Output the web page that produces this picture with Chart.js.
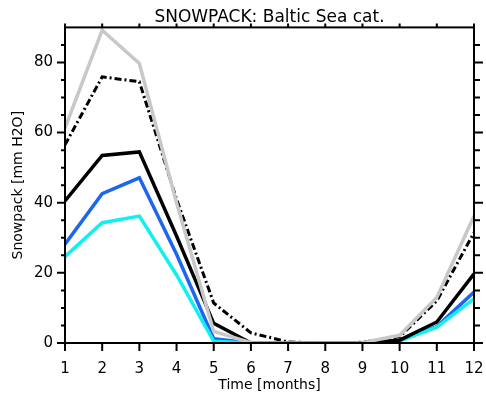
<!DOCTYPE html>
<html>
<head>
<meta charset="utf-8">
<script src="https://cdn.jsdelivr.net/npm/chart.js@4"></script>
<style>
html,body{margin:0;padding:0;background:#fff;}
#wrap{width:486px;height:396px;position:relative;}
</style>
</head>
<body>
<div id="wrap"><canvas id="c" width="486" height="396"></canvas></div>
<script>
const months = [1,2,3,4,5,6,7,8,9,10,11,12];
const graySeries    = [61.3, 89.2, 79.7, 40.0, 3.3, 0.1, 0.0, 0.0, 0.1, 2.2, 13.0, 36.2];
const dashDotSeries = [56.5, 75.9, 74.5, 41.0, 11.4, 2.9, 0.3, 0.0, 0.2, 1.8, 12.0, 31.5];
const blackSeries   = [40.5, 53.5, 54.5, 30.5, 5.6, 0.0, 0.0, 0.0, 0.0, 0.8, 6.0, 19.7];
const blueSeries    = [28.2, 42.6, 47.1, 25.3, 1.2, 0.0, 0.0, 0.0, 0.0, 0.8, 4.7, 14.5];
const cyanSeries    = [24.6, 34.3, 36.2, 19.4, 0.5, 0.0, 0.0, 0.0, 0.0, 0.6, 4.5, 12.6];
const yMajorTicks = [0, 20, 40, 60, 80];

const FONT = 'DejaVu Sans';

function pts(arr){ return arr.map((v,i)=>({x:months[i], y:v})); }

const frameTicks = {
  id: 'frameTicks',
  afterDraw(chart){
    const ctx = chart.ctx, a = chart.chartArea;
    const xs = chart.scales.x, ys = chart.scales.y;
    ctx.save();
    ctx.strokeStyle = '#000';
    ctx.lineWidth = 2;
    ctx.strokeRect(a.left, a.top, a.right - a.left, a.bottom - a.top);
    ctx.beginPath();
    for (let v = 0; v <= 90; v += 5) {
      const y = ys.getPixelForValue(v);
      if (y < a.top + 1) continue;
      const major = yMajorTicks.includes(v);
      const lenL = major ? 8 : 4;
      const lenR = major ? 9 : 6;
      ctx.moveTo(a.left - lenL, y); ctx.lineTo(a.left, y);
      ctx.moveTo(a.right, y); ctx.lineTo(a.right + lenR, y);
    }
    months.forEach(m => {
      const x = xs.getPixelForValue(m);
      ctx.moveTo(x, a.bottom); ctx.lineTo(x, a.bottom + 8);
      ctx.moveTo(x, a.top); ctx.lineTo(x, a.top - 4);
    });
    ctx.stroke();
    ctx.restore();
  }
};

const common = { fill:false, pointRadius:0, tension:0, borderCapStyle:'butt', borderJoinStyle:'miter' };

new Chart(document.getElementById('c'), {
  type: 'line',
  data: {
    datasets: [
      Object.assign({label:'gray', data: pts(graySeries), borderColor:'#c8c8c8', borderWidth:3.5}, common),
      Object.assign({label:'dashdot', data: pts(dashDotSeries), borderColor:'#000', borderWidth:3, borderDash:[7,3,2,3]}, common),
      Object.assign({label:'black', data: pts(blackSeries), borderColor:'#000', borderWidth:3.5}, common),
      Object.assign({label:'cyan', data: pts(cyanSeries), borderColor:'#10f0f0', borderWidth:3.5}, common),
      Object.assign({label:'blue', data: pts(blueSeries), borderColor:'#1e66ee', borderWidth:3.5}, common)
    ]
  },
  options: {
    responsive: false,
    animation: false,
    devicePixelRatio: 1,
    layout: { padding: { left: 0, right: 12, top: 0, bottom: 0 } },
    plugins: {
      legend: { display: false },
      tooltip: { enabled: false },
      title: {
        display: true,
        fullSize: false,
        text: 'SNOWPACK: Baltic Sea cat.',
        color: '#000',
        font: { family: FONT, size: 17, weight: 'normal' },
        padding: { top: 7, bottom: 0 }
      }
    },
    scales: {
      x: {
        type: 'linear',
        min: 1, max: 12,
        afterFit(s){ s.height = 53; s.paddingLeft = 0; s.paddingRight = 0; },
        grid: { display: false, drawOnChartArea: false, drawTicks: false },
        border: { display: false },
        ticks: { stepSize: 1, color: '#000', padding: 17, maxRotation: 0,
                 font: { family: FONT, size: 15 } },
        title: { display: true, text: 'Time [months]', color: '#000',
                 font: { family: FONT, size: 14 }, padding: { top: 0, bottom: 2 } }
      },
      y: {
        type: 'linear',
        min: 0, max: 90,
        afterFit(s){ s.width = 65; },
        grid: { display: false, drawOnChartArea: false, drawTicks: false },
        border: { display: false },
        ticks: { stepSize: 5, color: '#000', padding: 12,
                 font: { family: FONT, size: 15 },
                 callback: (v) => yMajorTicks.includes(v) ? String(v) : '' },
        title: { display: true, text: 'Snowpack [mm H2O]', color: '#000',
                 font: { family: FONT, size: 14 }, padding: { top: 10, bottom: 0 } }
      }
    }
  },
  plugins: [frameTicks]
});
</script>
</body>
</html>
